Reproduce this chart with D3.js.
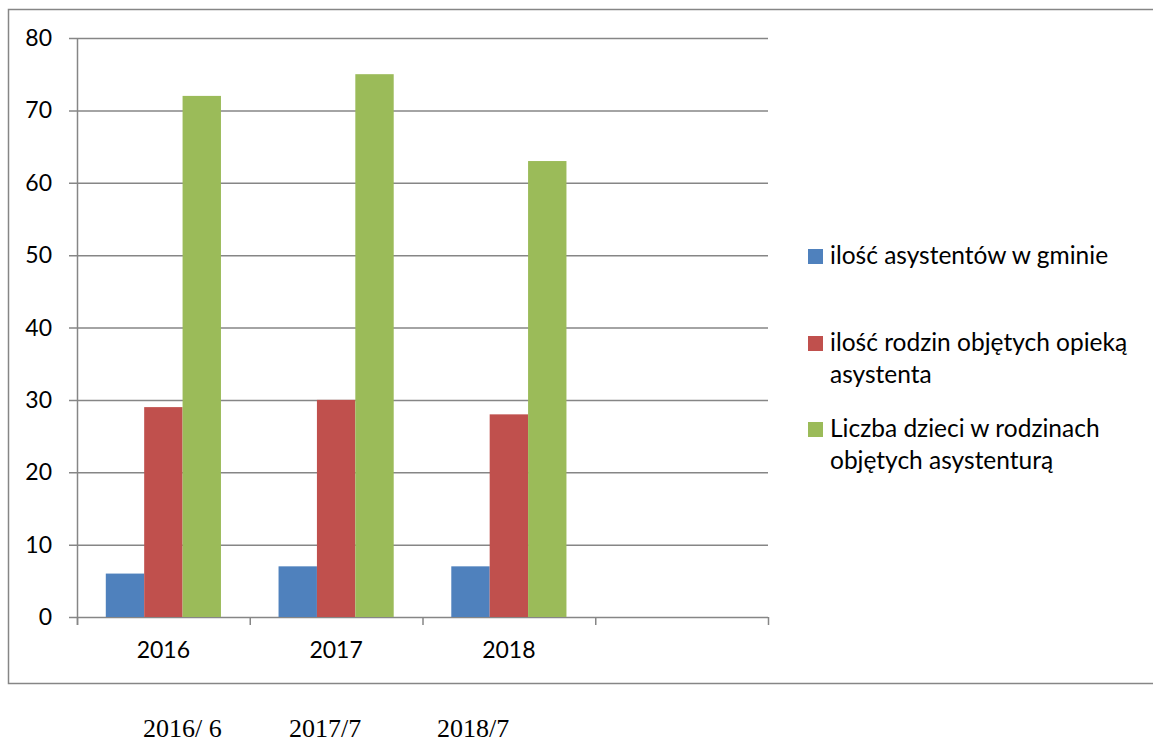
<!DOCTYPE html>
<html><head><meta charset="utf-8">
<script src="https://cdn.jsdelivr.net/npm/d3@7"></script>
<style>body{margin:0;background:#fff}svg{display:block}</style>
</head><body>
<svg id="c" width="1153" height="742"></svg>
<script>
const categories = ["2016", "2017", "2018", ""];
const seriesNames = ["ilość asystentów w gminie", "ilość rodzin objętych opieką asystenta", "Liczba dzieci w rodzinach objętych asystenturą"];
const legendLines = [["ilość asystentów w gminie"], ["ilość rodzin objętych opieką", "asystenta"], ["Liczba dzieci w rodzinach", "objętych asystenturą"]];
const assistants = [6, 7, 7, null];
const families = [29, 30, 28, null];
const children = [72, 75, 63, null];
const yTicks = [0, 10, 20, 30, 40, 50, 60, 70, 80];
const footerLabels = ["2016/ 6", "2017/7", "2018/7"];
const colors = ["#4F81BD", "#C0504D", "#9BBB59"];

const series = [assistants, families, children];
const svg = d3.select("#c");
const grid = "#868686";
const font = "Lato, 'Open Sans', sans-serif";

// outer border
svg.append("path").attr("d", "M1160,9.5H8.5V683.5H1160").attr("fill", "none").attr("stroke", grid).attr("stroke-width", 1.5);

const x0 = 77, x1 = 768, yTop = 38, yBot = 617;
const x = d3.scaleBand().domain(categories).range([x0, x1]).paddingInner(0).paddingOuter(0);
const xs = d3.scaleBand().domain(d3.range(series.length)).range([0, x.bandwidth()]).paddingInner(0).paddingOuter(0.75);
const y = d3.scaleLinear().domain([0, 80]).range([yBot, yTop]);

// gridlines
svg.append("g").selectAll("line").data(yTicks).join("line")
  .attr("x1", x0 - 8).attr("x2", x1).attr("y1", d => y(d) + 0.5).attr("y2", d => y(d) + 0.5)
  .attr("stroke", grid).attr("stroke-width", 1.5);

// bars
const g = svg.append("g");
series.forEach((vals, si) => {
  g.selectAll(null).data(categories.map((c, i) => ({c, v: vals[i]})).filter(d => d.v != null)).join("rect")
    .attr("x", d => x(d.c) + xs(si)).attr("width", xs.bandwidth())
    .attr("y", d => y(d.v)).attr("height", d => y(0) - y(d.v))
    .attr("fill", colors[si]);
});

// y axis line
svg.append("line").attr("x1", x0 + 0.5).attr("x2", x0 + 0.5).attr("y1", yTop).attr("y2", yBot + 8).attr("stroke", grid).attr("stroke-width", 1.5);
// x axis ticks
const xt = categories.map(c => x(c)).concat([x1]);
svg.append("g").selectAll("line").data(xt).join("line")
  .attr("x1", d => d + 0.5).attr("x2", d => d + 0.5).attr("y1", yBot).attr("y2", yBot + 8)
  .attr("stroke", grid).attr("stroke-width", 1.5);

// y labels
svg.append("g").selectAll("text").data(yTicks).join("text")
  .attr("x", 52).attr("y", d => y(d) + 8).attr("text-anchor", "end")
  .attr("font-family", font).attr("font-size", 23).attr("fill", "#000").text(d => d);

// x labels
svg.append("g").selectAll("text").data(categories).join("text")
  .attr("x", d => x(d) + x.bandwidth() / 2).attr("y", 658).attr("text-anchor", "middle")
  .attr("font-family", font).attr("font-size", 23).attr("fill", "#000").text(d => d);

// legend
const legTops = [249, 336, 422];
legendLines.forEach((lines, i) => {
  svg.append("rect").attr("x", 808).attr("y", legTops[i]).attr("width", 15).attr("height", 15).attr("fill", colors[i]);
  lines.forEach((t, j) => {
    svg.append("text").attr("x", 830).attr("y", legTops[i] + 15 + j * 32)
      .attr("font-family", font).attr("font-size", 24.5).attr("fill", "#000").text(t);
  });
});

// footer
const footerX = [143, 289, 437];
svg.append("g").selectAll("text").data(footerLabels).join("text")
  .attr("x", (d, i) => footerX[i]).attr("y", 737)
  .attr("font-family", "'Liberation Serif', 'Times New Roman', serif").attr("font-size", 26).attr("fill", "#000").text(d => d);
</script>
</body></html>
